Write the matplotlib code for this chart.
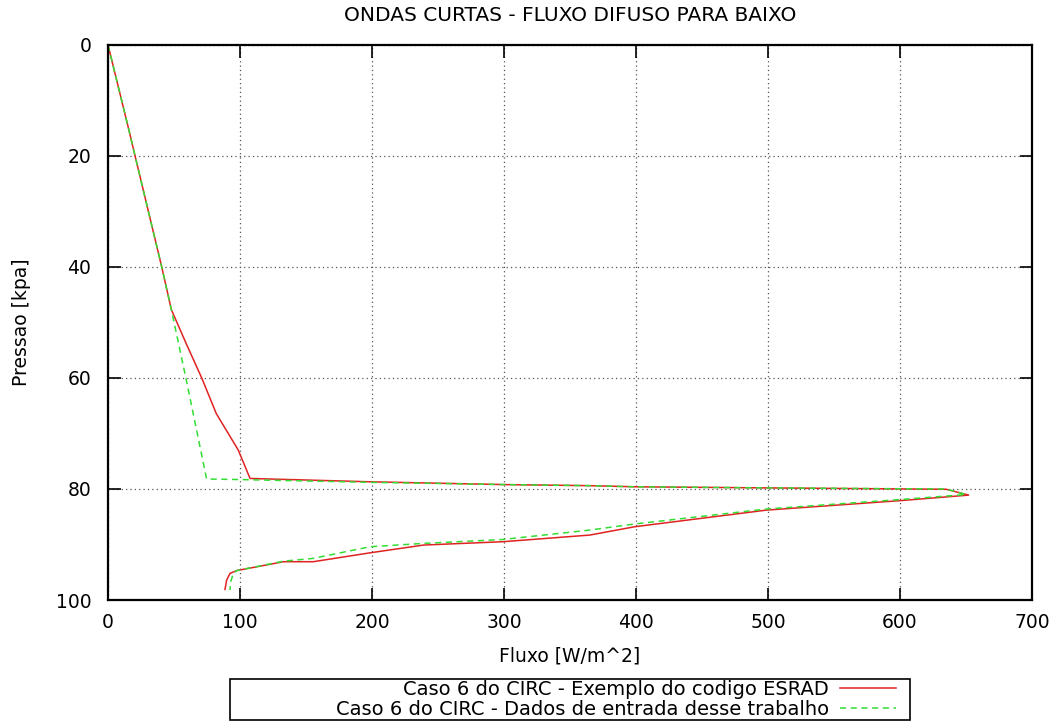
import numpy as np
import matplotlib.pyplot as plt
from matplotlib.patches import Rectangle

plt.rcParams['font.family'] = ['DejaVu Sans']

# caso 6 do CIRC - exemplo ESRAD
fluxo_esrad = [0, 16, 20.5, 40.7, 48, 59.6, 71, 82, 98.7, 107.6, 198.5, 299, 365, 399, 499,
               635, 652, 600, 499, 399, 365, 299, 239, 198.5, 155.5, 133, 97.5, 92.4, 89.9, 88.6]
pres_esrad = [0, 15.5, 20, 40, 47.7, 54, 60, 66.4, 73, 78.1, 78.7, 79.2, 79.4, 79.6, 79.8,
              80.05, 81.1, 82.1, 83.8, 86.8, 88.3, 89.5, 90.1, 91.5, 93.1, 93.1, 94.7, 95.2, 96.4, 98.1]

# caso 6 do CIRC - dados de entrada desse trabalho
fluxo_trab = [0, 16, 20.5, 40.7, 48, 59, 74.7, 100, 198.5, 299, 365, 399, 499, 635,
              650, 600, 499, 399, 365, 299, 239, 198.5, 155.5, 133, 97.5, 94.9, 93, 92.4]
pres_trab = [0, 15.5, 20, 40, 47.7, 60, 78.2, 78.3, 78.8, 79.2, 79.4, 79.6, 79.8, 80.0,
             81.0, 81.9, 83.6, 86.3, 87.4, 89.1, 89.8, 90.4, 92.5, 93, 94.7, 95.2, 96.7, 98.2]

fig = plt.figure(figsize=(10.59, 7.25), dpi=100)
ax = fig.add_axes([0.102, 0.1724, 0.8725, 0.7656])

ax.plot(fluxo_esrad, pres_esrad, color='#e02222', lw=1.1,
        label='Caso 6 do CIRC - Exemplo do codigo ESRAD')
ax.plot(fluxo_trab, pres_trab, color='#33dd33', lw=1.1, dashes=(4, 3),
        label='Caso 6 do CIRC - Dados de entrada desse trabalho')

ax.set_xlim(0, 700)
ax.set_ylim(100, 0)
ax.set_xticks(np.arange(0, 701, 100))
ax.set_yticks(np.arange(0, 101, 20))
ax.grid(True, color='#555555', linestyle=(0, (1, 2.5)), lw=0.9)
ax.tick_params(direction='in', length=9, width=1.2, labelsize=13.5,
               top=True, right=True, pad=9)
ax.tick_params(axis='y', pad=12)
for s in ax.spines.values():
    s.set_linewidth(1.6)

ax.set_xlabel('Fluxo [W/m^2]', fontsize=13.5, labelpad=11)
ax.set_ylabel('Pressao [kpa]', fontsize=13.5, labelpad=18)
ax.set_title('ONDAS CURTAS - FLUXO DIFUSO PARA BAIXO', fontsize=14.5, pad=17)

# legenda estilo gnuplot: texto a direita, caixa larga
leg = fig.legend(loc='center right', bbox_to_anchor=(0.846, 0.035),
                 markerfirst=False, fontsize=14, frameon=False,
                 handlelength=2.9, borderpad=0, labelspacing=0.05, handletextpad=0.55,
                 borderaxespad=0)
for t in leg.get_texts():
    t.set_ha('right')
fig.patches.append(Rectangle((230 / 1059, 5 / 725), 680 / 1059, 41 / 725,
                             transform=fig.transFigure, fill=False,
                             edgecolor='black', lw=1.2))

fig.savefig('out.png', dpi=100)
